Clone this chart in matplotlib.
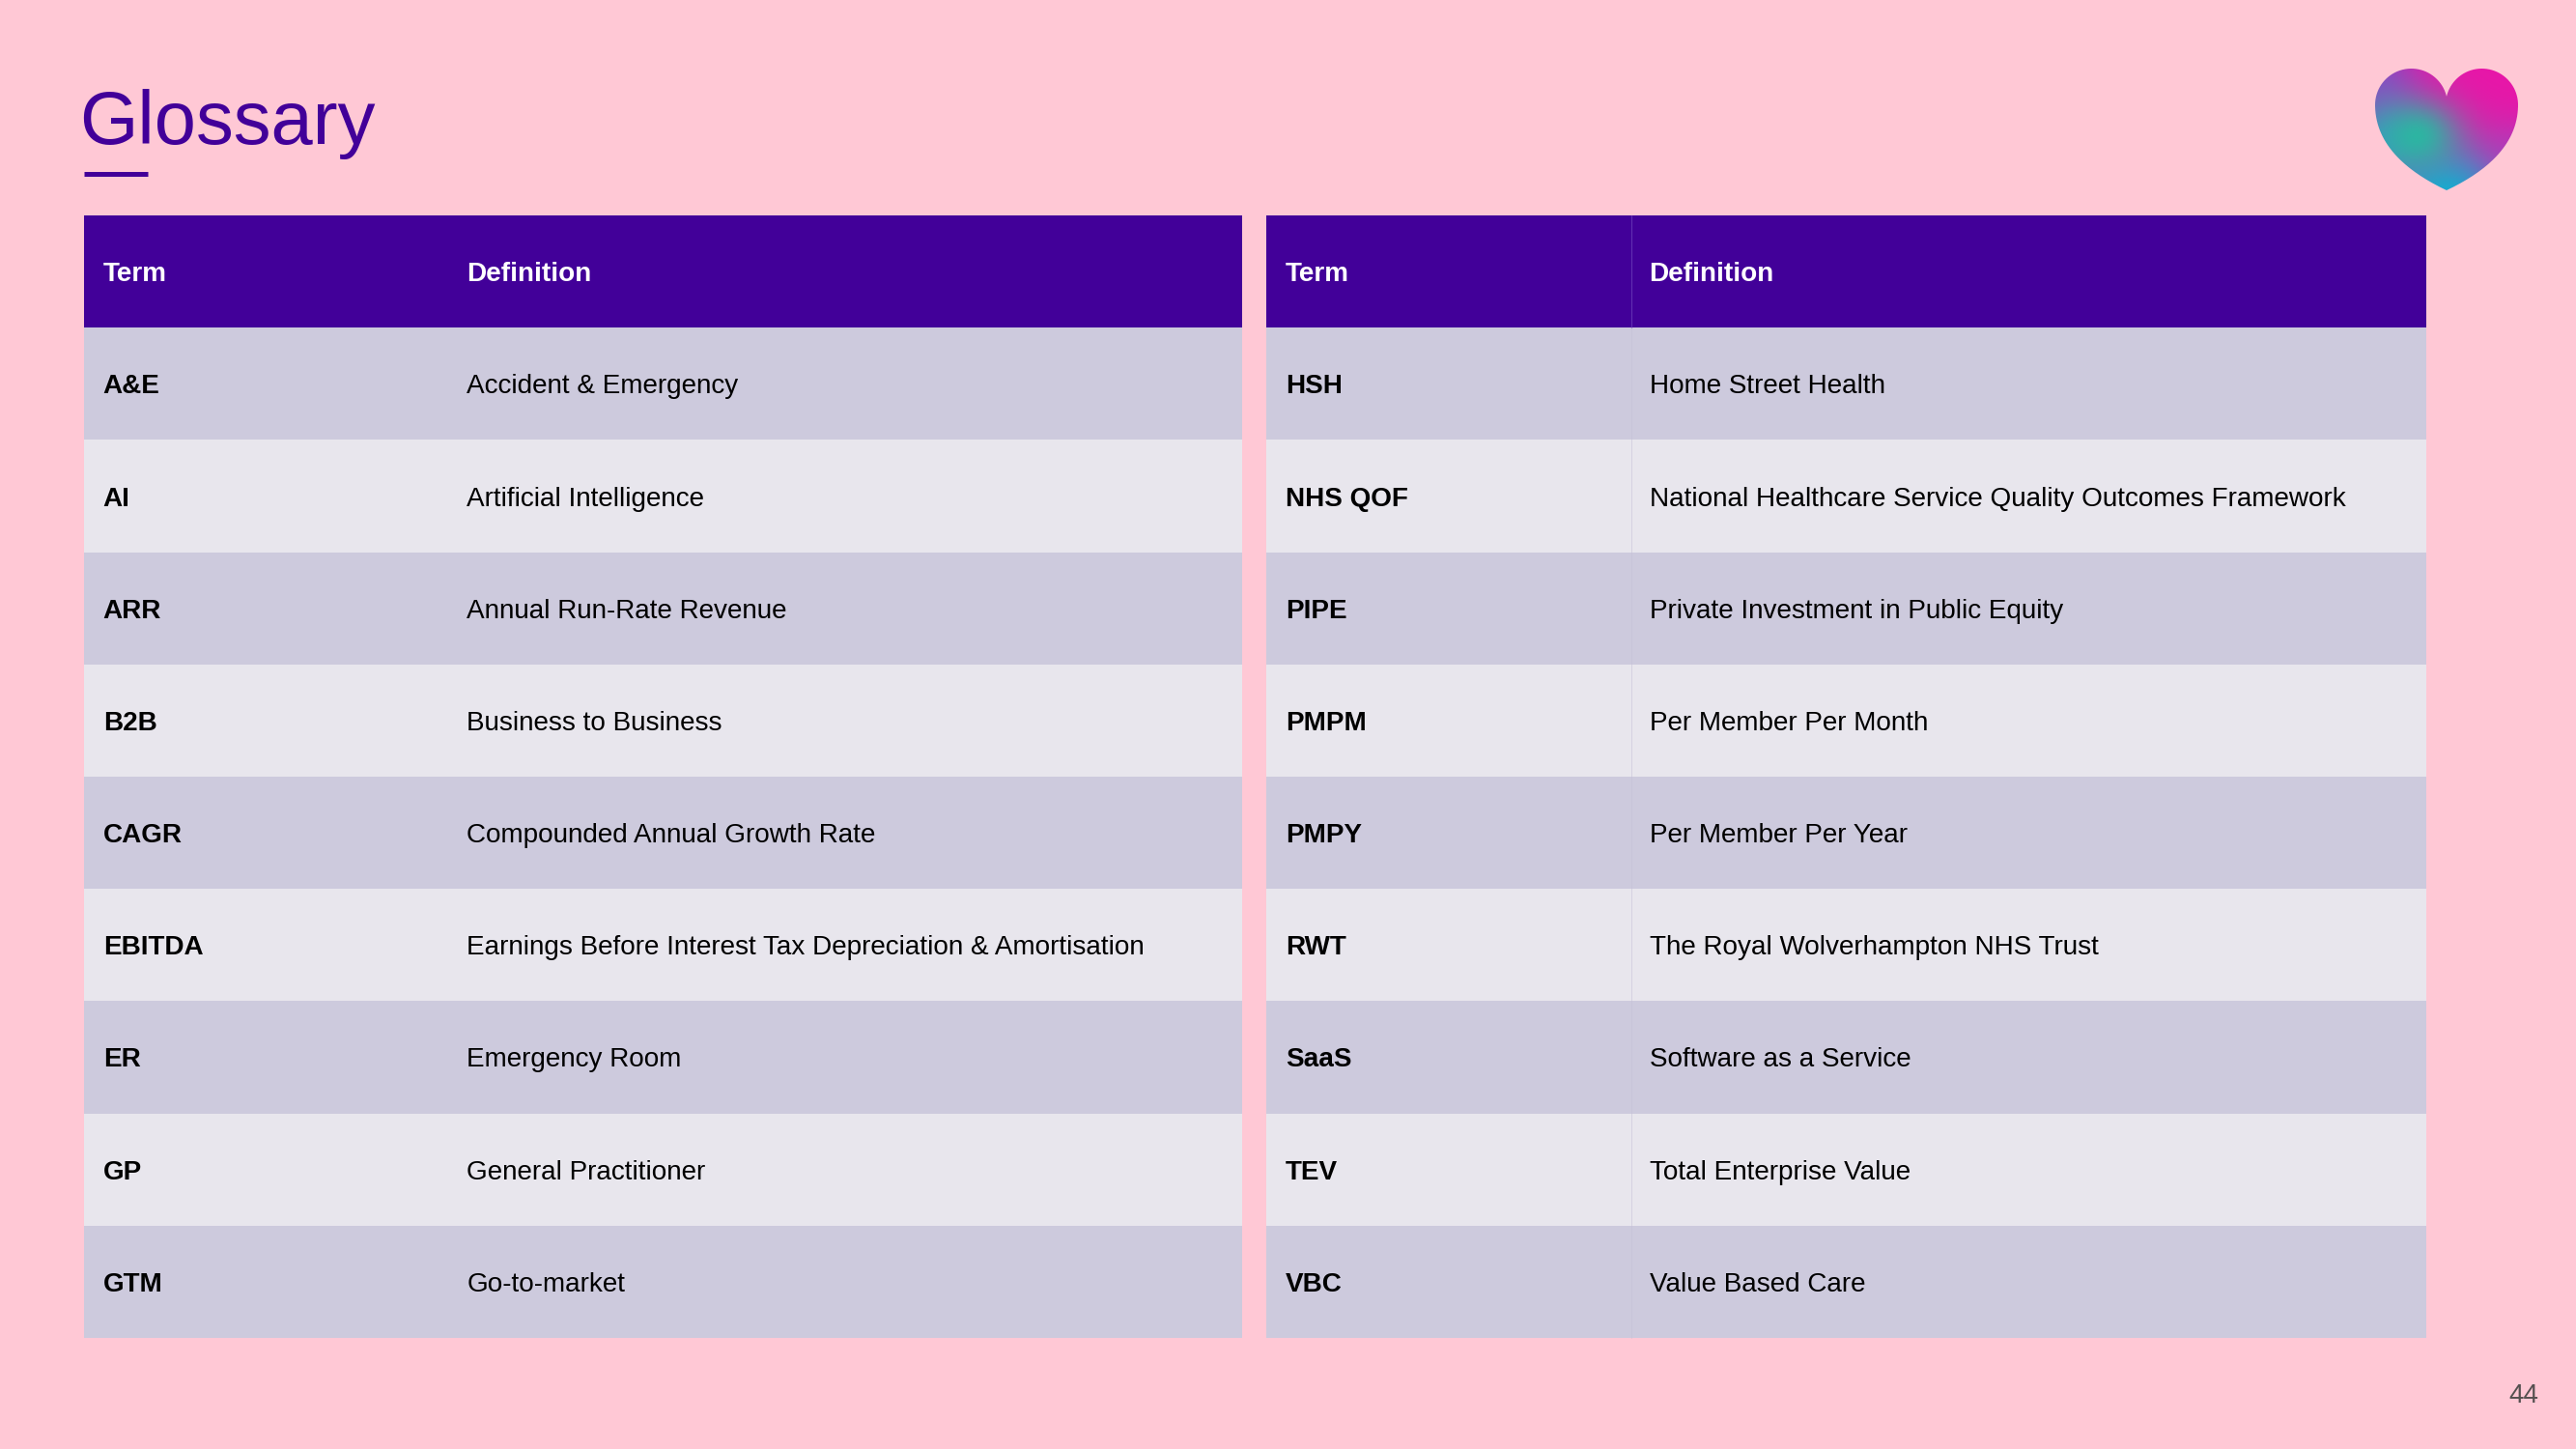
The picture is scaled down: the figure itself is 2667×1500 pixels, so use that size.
import numpy as np
import matplotlib
matplotlib.use("Agg")
import matplotlib.pyplot as plt
from matplotlib.patches import Rectangle, PathPatch
from matplotlib.path import Path

# ---- data ----
header = ["Term", "Definition"]
left_terms = ["A&E", "AI", "ARR", "B2B", "CAGR", "EBITDA", "ER", "GP", "GTM"]
left_defs = ["Accident & Emergency", "Artificial Intelligence", "Annual Run-Rate Revenue",
             "Business to Business", "Compounded Annual Growth Rate",
             "Earnings Before Interest Tax Depreciation & Amortisation",
             "Emergency Room", "General Practitioner", "Go-to-market"]
right_terms = ["HSH", "NHS QOF", "PIPE", "PMPM", "PMPY", "RWT", "SaaS", "TEV", "VBC"]
right_defs = ["Home Street Health", "National Healthcare Service Quality Outcomes Framework",
              "Private Investment in Public Equity", "Per Member Per Month",
              "Per Member Per Year", "The Royal Wolverhampton NHS Trust",
              "Software as a Service", "Total Enterprise Value", "Value Based Care"]
title = "Glossary"
page_number = "44"

# ---- style ----
BG = "#FFC8D5"
PURPLE = "#420099"
ROW_DARK = "#CDCADD"
ROW_LIGHT = "#E8E6ED"
FONT = "Liberation Sans"

W, H = 2667, 1500
fig = plt.figure(figsize=(W / 100, H / 100), dpi=100, facecolor=BG)
ax = fig.add_axes([0, 0, 1, 1])
ax.set_xlim(0, W)
ax.set_ylim(H, 0)
ax.axis("off")
ax.set_facecolor(BG)

# Title
ax.text(82, 149, title, fontsize=56, color=PURPLE, family=FONT, ha="left", va="baseline")
ax.plot([87, 153], [179.5, 179.5], color=PURPLE, lw=3.6, solid_capstyle="butt")

# Tables
top = 223
row_h = 116.2
col_w = 377.6
pad = 20
fs = 20.05
dy = 3.0


def draw_table(x0, x1, terms, defs, divider):
    ax.add_patch(Rectangle((x0, top), x1 - x0, row_h, facecolor=PURPLE, edgecolor="none"))
    yc = top + row_h / 2 + dy
    xdef = x0 + col_w + 19
    ax.text(x0 + pad, yc, header[0], fontsize=fs, color="white", weight="bold",
            family=FONT, ha="left", va="center")
    ax.text(xdef, yc, header[1], fontsize=fs, color="white",
            weight="bold", family=FONT, ha="left", va="center")
    for i, (t, d) in enumerate(zip(terms, defs)):
        y = top + row_h * (i + 1)
        c = ROW_DARK if i % 2 == 0 else ROW_LIGHT
        ax.add_patch(Rectangle((x0, y), x1 - x0, row_h, facecolor=c, edgecolor="none"))
        yc = y + row_h / 2 + dy
        ax.text(x0 + pad, yc, t, fontsize=fs, color="black", weight="bold",
                family=FONT, ha="left", va="center")
        ax.text(xdef, yc, d, fontsize=fs, color="black",
                family=FONT, ha="left", va="center")
    if divider:
        xd = x0 + col_w
        ax.plot([xd, xd], [top, top + row_h], color="#6A3AB8", lw=0.8, alpha=0.8)
        ax.plot([xd, xd], [top + row_h, top + row_h * 10], color="#C4C0D6", lw=0.6, alpha=0.6)


draw_table(86.7, 1286, left_terms, left_defs, False)
draw_table(1311, 2512, right_terms, right_defs, True)

# Page number
ax.text(2613, 1445, page_number, fontsize=20, color="#555050", family=FONT,
        ha="center", va="center")

# Heart logo (decoration): two circular lobes + curved sides to a tip
cxm, cy, d, r = 2533, 108.5, 36.5, 37.5
tip_y = 197
th0 = np.arccos(d / r)
aL = np.linspace(np.pi, th0, 80)
left_arc = np.column_stack([cxm - d + r * np.cos(aL), cy - r * np.sin(aL)])
aR = np.linspace(np.pi - th0, 0, 80)
right_arc = np.column_stack([cxm + d + r * np.cos(aR), cy - r * np.sin(aR)])
tt = np.linspace(0, 1, 60)[:, None]


def bez(p0, p1, p2):
    p0, p1, p2 = map(np.array, (p0, p1, p2))
    return (1 - tt) ** 2 * p0 + 2 * tt * (1 - tt) * p1 + tt ** 2 * p2


xr = cxm + d + r
xl = cxm - d - r
right_side = bez((xr, cy), (xr, 162), (cxm, tip_y))
left_side = bez((cxm, tip_y), (xl, 162), (xl, cy))
verts = np.vstack([left_arc, right_arc, right_side, left_side])
heart = PathPatch(Path(verts, closed=False), facecolor="none", edgecolor="none")
ax.add_patch(heart)

nx, ny = 160, 140
gx, gy = np.meshgrid(np.linspace(0, 1, nx), np.linspace(0, 1, ny))
img = np.ones((ny, nx, 3)) * (np.array([232, 22, 168]) / 255.0)


def blob(cx, cy_, sx, sy, col, strength=1.0):
    global img
    w = strength * np.exp(-(((gx - cx) / sx) ** 2 + ((gy - cy_) / sy) ** 2))
    w = w[..., None]
    img = img * (1 - w) + np.array(col)[None, None, :] / 255.0 * w


blob(0.0, 0.05, 0.3, 0.35, (140, 70, 195), 0.9)
blob(0.5, 1.05, 0.5, 0.42, (22, 170, 210), 1.0)
blob(0.05, 0.6, 0.28, 0.38, (50, 155, 200), 0.85)
blob(0.3, 0.55, 0.3, 0.3, (36, 190, 160), 0.9)
blob(1.0, 0.75, 0.2, 0.3, (160, 70, 195), 0.55)
im = ax.imshow(np.clip(img, 0, 1), extent=(xl, xr, tip_y, cy - r), interpolation="bicubic", zorder=3)
im.set_clip_path(heart)
ax.set_xlim(0, W)
ax.set_ylim(H, 0)

fig.savefig("out.png", dpi=100, facecolor=BG)
